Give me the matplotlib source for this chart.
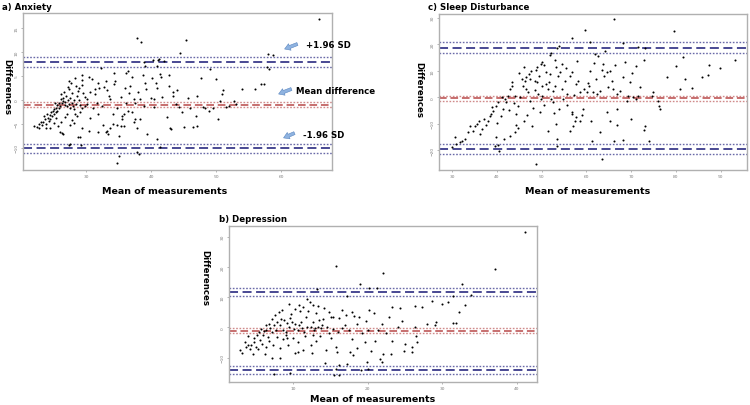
import numpy as np
import matplotlib
matplotlib.use("Agg")
import matplotlib.pyplot as plt

# ---------------- data ----------------
anx_mean = [65.8, 37.8, 38.5, 45.4, 44.5, 58.0, 58.8, 58.1, 57.8, 56.9,
            57.4, 54.0, 55.9, 52.7, 50.6, 50.9, 51.1, 50.0, 47.7, 49.0,
            50.2, 48.9, 48.3, 47.0, 46.9, 47.0, 46.5, 45.1, 44.7, 42.9,
            43.0, 42.7, 42.8, 43.3, 43.4, 41.4, 41.0, 41.2, 40.9, 42.0,
            38.9, 39.1, 38.8, 39.0, 39.2, 40.2, 40.4, 40.0, 40.5, 40.8,
            40.9, 37.0, 36.7, 36.5, 36.1, 36.0, 37.3, 37.5, 38.0, 38.3,
            36.2, 35.8, 35.5, 35.3, 35.9, 34.8, 35.0, 35.0, 34.7, 34.3,
            34.3, 34.5, 33.7, 33.4, 33.7, 33.0, 32.8, 33.2, 32.3, 31.9,
            32.0, 31.6, 31.9, 31.9, 31.3, 31.4, 30.9, 30.4, 30.2, 30.1,
            30.6, 30.4, 29.3, 29.3, 29.3, 29.4, 29.1, 29.4, 29.1, 29.2,
            28.7, 27.5, 27.3, 28.2, 28.3, 27.3, 27.4, 26.3, 26.5, 26.2,
            39.3, 37.9, 37.5, 38.3, 40.9, 41.4, 38.1, 37.8, 36.5, 37.0,
            35.5, 37.3, 34.2, 34.1, 33.2, 32.6, 33.0, 41.5, 40.3, 44.0,
            44.3, 42.5, 45.7, 48.0, 52.0, 53.0, 51.5, 46.0, 49.5, 43.8,
            34.7, 35.3, 36.6, 38.9, 41.7, 32.5, 33.5, 31.0, 30.6, 29.8,
            22.0, 22.4, 22.7, 22.8, 23.0, 23.2, 23.4, 23.7, 23.8, 23.9,
            24.1, 24.3, 24.4, 24.5, 24.6, 24.8, 24.9, 25.0, 25.1, 25.3,
            25.4, 25.5, 25.6, 25.8, 25.9, 26.0, 26.1, 26.3, 26.4, 26.5,
            26.7, 26.8, 26.9, 27.0, 27.2, 27.3, 27.5, 27.6, 27.8, 27.9,
            28.0, 28.2, 28.4, 28.5, 28.6, 28.8, 28.9, 29.0, 29.6, 29.9,
            24.5, 25.0, 25.7, 26.0, 26.8, 27.1, 27.5, 27.8, 28.1, 28.6,
            23.5, 24.0, 25.2, 26.2, 26.6, 27.2, 27.7, 28.3, 28.9, 25.4]
anx_diff = [16.8, 12.8, 12.1, 12.5, 9.7, 9.5, 9.3, 6.4, 6.9, 3.4,
            3.3, 2.2, 2.2, -0.2, -0.2, 1.2, 2.0, 4.3, 4.6, 6.4,
            -4.0, -2.4, -1.6, 0.8, -3.3, -5.4, -5.6, -5.6, -2.6, -5.8,
            -6.1, 5.1, 2.9, 1.7, 0.8, 5.3, 8.3, 8.6, 7.1, 8.1,
            7.8, 7.1, 5.1, 3.6, 2.2, 4.6, 0.1, 0.4, -1.4, 3.6,
            2.5, 4.7, 2.9, 6.0, 5.5, 2.4, 0.1, -0.6, 1.7, 0.1,
            -0.6, -3.0, -3.3, -5.4, -5.4, -5.3, -7.5, -11.7, -13.1, 3.4,
            5.7, 4.0, 0.1, -7.2, -5.8, 4.0, 2.6, 2.1, 6.7, 3.5,
            2.4, -0.6, -3.0, -6.7, 2.2, 1.2, 4.4, 4.7, 0.1, -0.8,
            -3.7, -6.5, 5.1, 3.1, 4.1, -1.6, -2.6, -5.8, -7.7, -9.4,
            -7.8, -9.2, -9.3, -1.8, -3.0, 4.0, 2.2, -6.8, -7.1, -4.7,
            -7.2, -5.8, -4.0, -4.0, -8.2, -9.9, -11.3, -10.8, -2.3, -2.6,
            -4.0, -4.7, -5.0, -3.0, -6.5, -5.2, -6.6, 4.8, 8.3, 2.0,
            -1.5, -3.6, 0.5, -1.4, -1.3, -0.8, -1.5, -1.6, -1.7, -0.9,
            -1.6, 0.7, 1.4, -1.3, 0.6, -1.3, 0.9, -1.7, 1.6, 0.7,
            -5.4, -5.6, -5.1, -5.8, -4.7, -5.3, -4.6, -4.0, -5.1, -5.8,
            -3.7, -4.4, -3.2, -4.0, -2.6, -3.3, -2.3, -3.0, -1.9, -2.6,
            -1.6, -2.3, -1.1, -1.6, -0.6, -1.2, 0.1, -0.7, -0.2, 0.5,
            -1.1, -0.5, 0.8, -1.2, -0.1, -0.9, 0.5, -1.6, -0.6, 1.5,
            -1.2, -0.1, -0.8, 2.9, 0.8, 1.8, -0.1, -1.1, 1.5, -1.2,
            -5.8, -4.8, -5.4, -6.6, -3.5, -3.0, -5.3, -4.1, -4.9, -3.4,
            -3.4, -2.9, -0.6, 1.2, 1.6, 2.6, 3.5, 4.6, 2.4, -3.8]

slp_mean = [66.2, 59.7, 79.5, 56.9, 60.8, 68.1, 54.0, 53.5, 71.6, 73.1,
            52.2, 51.8, 62.7, 64.2, 62.0, 81.7, 72.8, 93.3, 50.1, 49.8,
            49.0, 48.8, 53.2, 54.6, 68.7, 71.0, 80.1, 87.4, 89.8, 87.3,
            60.8, 63.4, 64.6, 65.2, 51.1, 51.9, 53.7, 54.2, 47.6, 47.2,
            46.6, 45.7, 46.3, 47.4, 48.5, 48.9, 50.0, 51.1, 51.7, 51.5,
            48.5, 49.2, 50.0, 49.8, 45.9, 46.5, 47.0, 43.5, 43.3, 42.9,
            42.5, 41.8, 42.1, 44.0, 44.8, 44.3, 44.4, 44.8, 44.0, 42.9,
            41.4, 41.1, 40.3, 39.8, 39.2, 38.8, 38.4, 38.0, 37.7, 36.6,
            36.3, 35.5, 35.1, 34.7, 33.6, 32.8, 32.3, 31.7, 30.7, 29.9,
            31.0, 39.9, 40.3, 39.7, 40.5, 41.7, 48.7, 51.5, 53.4, 53.4,
            53.2, 56.3, 57.0, 57.4, 57.8, 56.9, 56.7, 58.7, 59.0, 59.3,
            61.0, 61.3, 63.1, 63.4, 64.6, 65.4, 66.8, 66.8, 66.3, 68.3,
            70.0, 72.8, 73.1, 73.9, 76.3, 76.4, 74.6, 75.0, 76.1, 71.6,
            71.1, 70.5, 69.4, 69.0, 67.5, 66.8, 66.0, 64.9, 63.1, 62.4,
            61.6, 60.1, 60.5, 59.4, 58.2, 57.8, 56.7, 56.3, 55.2, 54.5,
            55.6, 54.9, 52.6, 53.1, 52.2, 52.5, 81.0, 83.6, 85.8, 82.1,
            78.0, 69.8, 68.3, 65.8, 64.0, 62.2, 60.3, 58.5, 57.2, 55.8,
            54.0, 52.8, 50.6, 49.6, 48.2, 47.5, 46.7, 46.0, 47.8, 45.3,
            43.8, 42.7, 41.0, 40.0, 38.9, 37.2, 36.0, 34.0, 45.0, 46.0,
            49.4, 50.6, 52.9, 55.5, 58.0, 61.8, 63.8, 66.5, 70.2, 72.0]
slp_diff = [29.6, 25.4, 25.0, 22.3, 20.8, 20.4, 19.5, 18.6, 18.9, 18.5,
            16.6, 16.0, 15.7, 17.4, 16.2, 15.1, 14.2, 14.1, 13.2, 12.6,
            11.3, 10.4, 11.3, 12.6, 13.2, 11.7, 11.9, 12.0, 10.9, 8.4,
            10.1, 10.3, 9.4, 10.1, 9.4, 8.8, 7.9, 9.4, 10.1, 8.8,
            7.5, 6.9, 6.3, 6.9, 6.3, 5.7, 4.4, 5.0, 5.7, 3.1,
            2.9, 1.3, 0.6, -0.6, 4.4, 3.1, 1.9, 5.7, 4.2, 3.1,
            0.6, -0.6, -1.9, 0.6, -3.1, -6.3, -10.4, -11.7, -13.2, -14.5,
            -4.4, 0.0, -1.9, -3.1, -5.0, -6.3, -6.9, -8.8, -10.4, -11.9,
            -13.8, -10.1, -10.7, -12.6, -13.2, -15.7, -16.4, -17.0, -15.1, -18.9,
            -17.6, -15.1, -17.9, -18.2, -20.1, -15.7, -25.2, -12.6, -15.7, -18.2,
            -10.1, -12.6, -10.7, -8.8, -7.5, -6.3, -5.7, -8.8, -6.7, -4.4,
            -8.8, -16.4, -13.2, -23.3, -5.7, -8.8, -4.4, -10.4, -16.4, -16.1,
            -8.2, -12.3, -10.7, -16.4, -3.1, -4.4, 0.6, 2.1, -1.3, 0.6,
            -0.6, 0.0, 0.6, -1.3, 2.5, 1.3, 3.1, 3.8, 2.5, 1.3,
            1.9, 1.9, 4.4, 3.1, 6.3, 5.0, 9.4, 8.2, 6.3, 3.1,
            1.3, -0.6, 2.5, 4.4, -0.6, -1.9, 3.1, 3.4, 7.5, 6.9,
            7.5, 5.7, 7.5, 6.3, 8.0, 7.0, 5.5, 2.0, 0.8, -2.8,
            -4.5, -6.0, -3.0, -5.5, -4.0, -1.5, -6.8, -9.0, -11.0, 0.2,
            -2.0, -4.6, -7.0, -9.5, -3.5, -8.0, -9.0, -11.0, 9.0, 11.5,
            8.0, 12.0, 14.0, 11.0, 13.5, 13.0, 12.5, 12.0, 9.0, 4.0]

dep_mean = [41.1, 37.1, 15.8, 22.1, 32.7, 19.0, 20.2, 21.3, 33.9, 31.4,
            33.1, 32.3, 31.9, 31.5, 29.2, 29.0, 30.0, 30.7, 28.6, 27.3,
            26.3, 23.3, 24.3, 17.2, 13.2, 20.2, 20.8, 18.8, 21.9, 21.4,
            23.2, 23.1, 24.0, 25.0, 24.8, 26.0, 26.0, 26.6, 26.4, 26.5,
            22.1, 21.7, 21.9, 19.9, 20.1, 19.1, 18.0, 17.6, 17.2, 16.2,
            15.8, 15.5, 16.1, 15.9, 15.7, 14.4, 15.1, 15.3, 16.0, 16.6,
            16.9, 14.3, 16.2, 17.1, 17.9, 18.2, 15.3, 15.1, 14.2, 13.3,
            12.6, 12.2, 11.9, 11.3, 10.9, 10.8, 10.2, 9.5, 13.5, 13.9,
            12.9, 12.6, 12.4, 12.5, 11.3, 10.6, 10.2, 9.6, 9.2, 9.3,
            8.2, 8.3, 7.5, 7.1, 6.4, 6.2, 2.9, 3.2, 3.5, 3.7,
            3.9, 4.2, 4.4, 4.6, 4.8, 5.0, 5.1, 5.4, 5.5, 5.7,
            5.9, 6.1, 6.3, 6.4, 6.6, 6.7, 6.9, 7.1, 7.2, 7.4,
            7.6, 7.7, 7.9, 8.1, 8.2, 8.4, 8.5, 8.7, 8.8, 9.0,
            9.2, 9.4, 9.6, 9.7, 9.9, 10.1, 10.3, 10.6, 10.8, 11.0,
            11.2, 11.5, 11.7, 11.9, 12.4, 12.6, 12.8, 13.1, 13.3, 13.6,
            13.8, 14.0, 14.5, 4.0, 4.7, 5.3, 5.8, 6.8, 7.3, 7.8,
            8.6, 9.1, 10.0, 10.7, 11.6, 13.0, 14.8, 17.5, 18.5, 19.3,
            20.0, 19.6, 18.6, 17.9, 22.5, 21.0, 20.5, 24.6, 28.0, 16.5,
            14.8, 12.0, 19.8, 22.8]
dep_diff = [31.5, 19.2, 20.3, 18.1, 14.4, 14.4, 13.0, 13.0, 10.6, 10.4,
            7.3, 5.1, 1.5, 1.5, 1.8, 0.7, 7.8, 8.4, 8.6, 6.7,
            7.2, 6.7, 6.5, 10.3, 12.5, 5.6, 4.7, 3.4, 1.2, -0.8,
            -4.6, -8.8, 0.1, -5.6, -7.9, -6.5, -8.2, -4.9, 0.1, -2.9,
            -8.8, -10.4, -11.5, -11.6, -13.9, -14.0, -9.3, -8.2, -12.2, -12.6,
            -13.9, -15.9, -15.9, -8.2, -6.5, -7.6, -3.7, -0.7, -1.5, -0.4,
            0.7, -11.7, 3.1, 4.0, 5.1, 3.6, 3.4, 3.4, 6.5, 7.1,
            7.5, 8.4, 9.5, 6.7, 5.4, 7.5, 6.2, 7.6, 2.3, 0.9,
            -0.4, -2.6, -5.9, -8.4, -7.6, -8.2, -8.5, -15.0, -3.7, -5.9,
            -7.0, -10.1, -15.5, -10.1, -6.5, -8.7, -7.6, -8.5, -4.8, -6.5,
            -5.7, -7.2, -6.0, -8.7, -3.7, -6.5, -2.6, -1.5, -4.3, -0.7,
            -2.6, -1.3, 0.7, -1.0, -3.2, 1.2, -0.4, 2.6, -1.5, 0.7,
            4.0, -1.0, 1.8, 5.1, 0.7, 2.9, 5.6, -1.0, 2.3, -1.5,
            1.5, 0.0, 3.1, 4.5, 1.8, -0.7, 1.2, -1.0, 0.7, 1.8,
            -0.2, -1.5, 3.4, 0.2, 0.2, 1.8, -1.0, 4.6, 0.0, -2.9,
            -0.4, 2.9, 0.2, -3.0, -5.0, -7.2, -5.5, -4.5, -6.0, -3.3,
            -4.0, -2.5, -3.5, -4.8, -3.0, -4.5, -2.0, -1.0, 1.0, -2.0,
            -1.0, -5.0, -6.8, -4.0, -2.0, -4.5, -7.8, 2.0, 1.0, 5.8,
            5.0, 5.5, 2.0, 3.5]

# limits of agreement: (upper CI, line, lower CI)
anx_loa = {"upper": (8.9, 7.9, 6.9), "mean": (-0.5, -1.0, -1.5), "lower": (-9.1, -10.1, -11.1)}
slp_loa = {"upper": (20.7, 18.7, 16.8), "mean": (0.6, -0.4, -1.5), "lower": (-17.5, -19.6, -21.5)}
dep_loa = {"upper": (13.1, 11.7, 10.2), "mean": (-0.4, -1.1, -1.9), "lower": (-12.8, -14.2, -15.4)}

anx_xticks = [30, 40, 50, 60]
anx_yticks = [-10, -5, 0, 5, 10, 15]
slp_xticks = [30, 40, 50, 60, 70, 80, 90]
slp_yticks = [-20, -10, 0, 10, 20, 30]
dep_xticks = [10, 20, 30, 40]
dep_yticks = [-10, 0, 10, 20, 30]

# ---------------- figure ----------------
W, H = 750, 406
fig = plt.figure(figsize=(W / 100, H / 100), dpi=100)
fig.patch.set_facecolor("white")


def fx(px):
    return px / W


def fy(py):
    return 1 - py / H


def rect(l, t, r, b):
    return [fx(l), fy(b), fx(r) - fx(l), (b - t) / H]


BLUE_D = "#3a3a8a"
BLUE_P = "#6a6aa8"
RED_D = "#b84848"
RED_P = "#d08a8a"


def panel(box, xs, ys, loa, xlim, ylim, xt, yt):
    ax = fig.add_axes(box)
    ax.set_xlim(*xlim)
    ax.set_ylim(*ylim)
    for key in ("upper", "lower"):
        hi, mid, lo = loa[key]
        ax.axhline(hi, color=BLUE_P, lw=1.0, ls=(0, (1.2, 1.2)), zorder=1)
        ax.axhline(lo, color=BLUE_P, lw=1.0, ls=(0, (1.2, 1.2)), zorder=1)
        ax.axhline(mid, color=BLUE_D, lw=1.3, ls=(0, (5, 2.5)), zorder=1)
    hi, mid, lo = loa["mean"]
    ax.axhline(hi, color=RED_P, lw=1.0, ls=(0, (1.2, 1.2)), zorder=1)
    ax.axhline(lo, color=RED_P, lw=1.0, ls=(0, (1.2, 1.2)), zorder=1)
    ax.axhline(mid, color=RED_D, lw=1.1, ls=(0, (5, 2.5)), zorder=1)
    ax.scatter(xs, ys, s=2.2, c="black", linewidths=0, zorder=3)
    ax.set_xticks(xt)
    ax.set_yticks(yt)
    ax.tick_params(axis="both", labelsize=3.2, labelcolor="#808080",
                   length=1.5, width=0.5, color="#999999", pad=1.5)
    for lbl in ax.get_yticklabels():
        lbl.set_rotation(90)
        lbl.set_va("center")
    for sp in ax.spines.values():
        sp.set_color("#b0b0b0")
        sp.set_linewidth(1.0)
    return ax


FS = 6.2
axa = panel(rect(23, 14, 332, 171), anx_mean, anx_diff, anx_loa,
            (20.3, 67.8), (-14.6, 18.1), anx_xticks, anx_yticks)
axc = panel(rect(439, 15, 747, 171), slp_mean, slp_diff, slp_loa,
            (27.1, 95.9), (-27.4, 31.4), slp_xticks, slp_yticks)
axb = panel(rect(229, 227, 537, 383), dep_mean, dep_diff, dep_loa,
            (1.4, 42.7), (-18.1, 33.5), dep_xticks, dep_yticks)

# titles
fig.text(fx(2), fy(8), "a) Anxiety", fontsize=FS, fontweight="bold", ha="left", va="center")
fig.text(fx(428), fy(7), "c) Sleep Disturbance", fontsize=FS, fontweight="bold", ha="left", va="center")
fig.text(fx(219), fy(220), "b) Depression", fontsize=FS, fontweight="bold", ha="left", va="center")

# axis labels
for (x, y) in [(7, 87), (419, 90), (205, 278)]:
    fig.text(fx(x), fy(y), "Differences", fontsize=FS, fontweight="bold",
             rotation=-90, ha="center", va="center")
for (x, y) in [(165, 192), (588, 191), (373, 400)]:
    fig.text(fx(x), fy(y), "Mean of measurements", fontsize=FS + 0.6,
             fontweight="bold", ha="center", va="center")

# annotations with arrows (panel a)
ARROW_FC = "#8fb3e0"
ARROW_EC = "#5a86c0"
for (tx, ty, hx, hy, label, lx, ly) in [
        (300, 44, 282, 51, "+1.96 SD", 306, 46),
        (294, 89, 276, 96, "Mean difference", 296, 91),
        (297, 133, 281, 140, "-1.96 SD", 303, 135)]:
    fig.patches.append(matplotlib.patches.FancyArrowPatch(
        (fx(tx), fy(ty)), (fx(hx), fy(hy)), transform=fig.transFigure,
        arrowstyle="simple,head_length=4,head_width=5,tail_width=2.2",
        fc=ARROW_FC, ec=ARROW_EC, lw=0.4))
    fig.text(fx(lx), fy(ly), label, fontsize=FS, fontweight="bold",
             ha="left", va="center")

fig.savefig("out.png", dpi=100, facecolor="white")
